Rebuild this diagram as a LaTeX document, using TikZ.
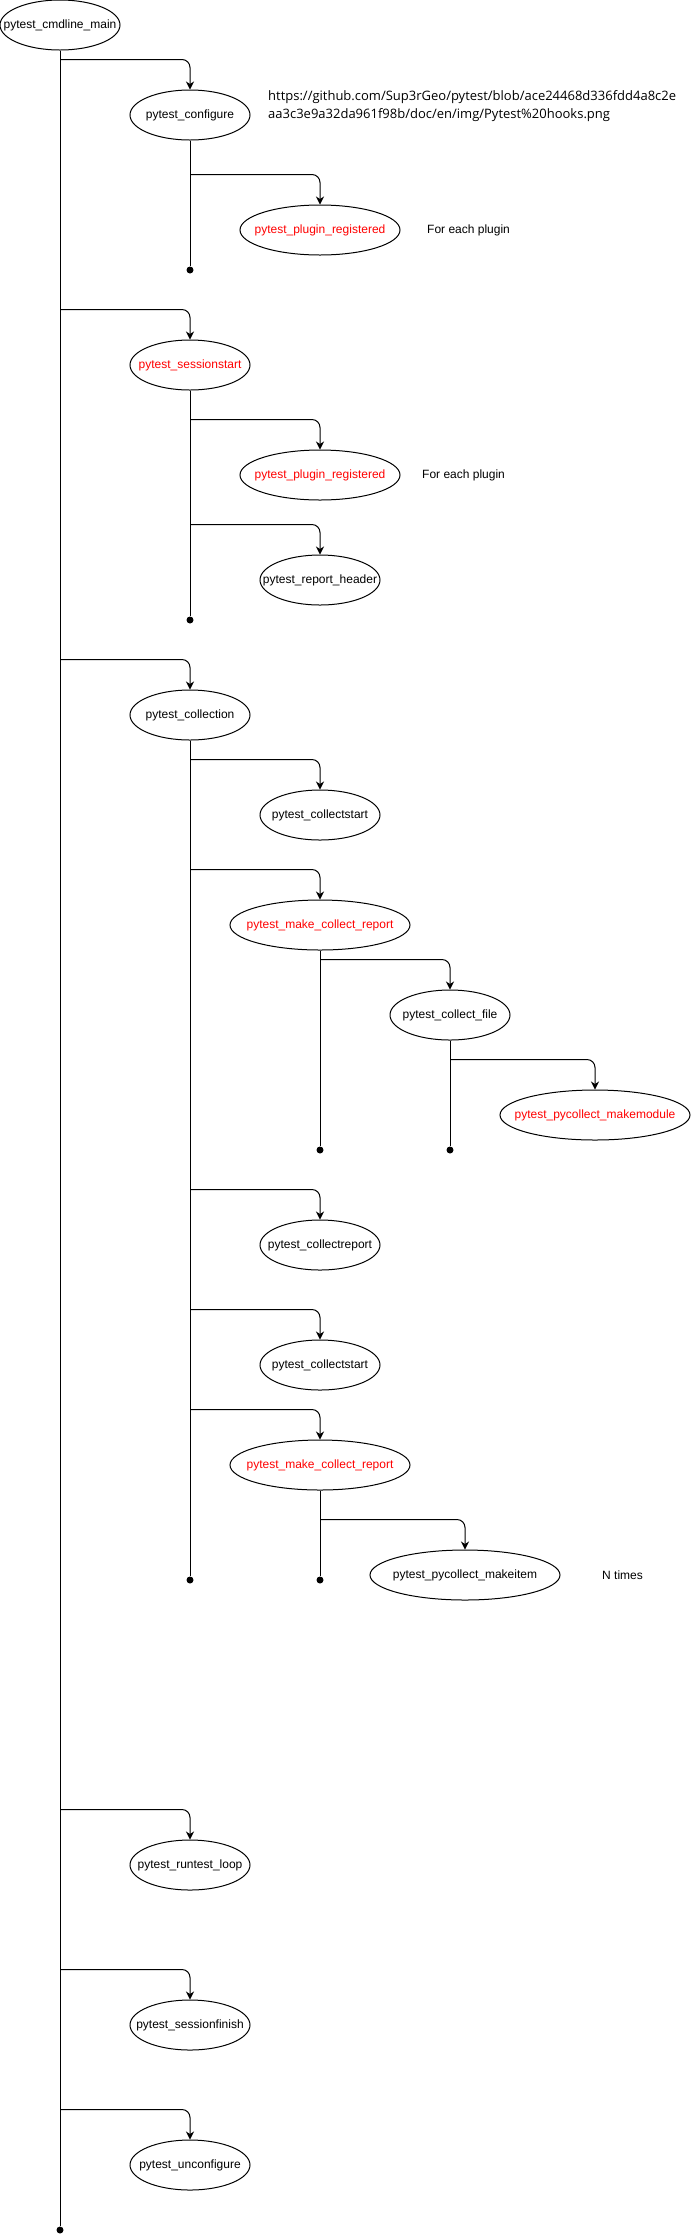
\documentclass[tikz,border=0pt]{standalone}
\usepackage{fontspec}
\setmainfont{Liberation Sans}
\newfontfamily\urlfont{Open Sans}
\usetikzlibrary{arrows.meta, calc, shapes.geometric}
\definecolor{hookRed}{HTML}{FF0000}
\tikzset{
  hookbox/.style={draw, ellipse, line width=1pt, minimum width=120pt, minimum height=50pt, inner sep=0pt,
    font=\fontsize{12}{14}\selectfont, execute at begin node={\hbox to 0pt\bgroup\hss}, execute at end node={\hss\egroup}},
  redhook/.style={hookbox, text=hookRed},
  enddot/.style={circle, fill, inner sep=0pt, minimum size=7pt},
  lifeline/.style={line width=1pt},
  flowarr/.style={-{Stealth[length=8pt, width=8pt, inset=2.5pt]}, line width=1pt, rounded corners=8pt},
  notetext/.style={anchor=west, inner sep=0pt, font=\fontsize{12}{14}\selectfont},
}

\begin{document}
\begin{tikzpicture}[x=1pt, y=-1pt]
  \useasboundingbox (0,0) rectangle (691,2239);
  % hooks
  \node[hookbox] (main) at (60,25) {pytest\_cmdline\_main};
  \node[hookbox] (configure) at (190,115) {pytest\_configure};
  \node[redhook, minimum width=160pt] (plugregA) at (320,230) {pytest\_plugin\_registered};
  \node[redhook] (sessionstart) at (190,365) {pytest\_sessionstart};
  \node[redhook, minimum width=160pt] (plugregB) at (320,475) {pytest\_plugin\_registered};
  \node[hookbox] (header) at (320,580) {pytest\_report\_header};
  \node[hookbox] (collection) at (190,715) {pytest\_collection};
  \node[hookbox] (startA) at (320,815) {pytest\_collectstart};
  \node[redhook, minimum width=180pt] (mcrA) at (320,925) {pytest\_make\_collect\_report};
  \node[hookbox] (collectfile) at (450,1015) {pytest\_collect\_file};
  \node[redhook, minimum width=190pt] (makemodule) at (595,1115) {pytest\_pycollect\_makemodule};
  \node[hookbox] (collreport) at (320,1245) {pytest\_collectreport};
  \node[hookbox] (startB) at (320,1365) {pytest\_collectstart};
  \node[redhook, minimum width=180pt] (mcrB) at (320,1465) {pytest\_make\_collect\_report};
  \node[hookbox, minimum width=190pt] (makeitem) at (465,1575) {pytest\_pycollect\_makeitem};
  \node[hookbox] (runtestloop) at (190,1865) {pytest\_runtest\_loop};
  \node[hookbox] (sessionfinish) at (190,2025) {pytest\_sessionfinish};
  \node[hookbox] (unconfigure) at (190,2165) {pytest\_unconfigure};
  % notes
  \node[anchor=west, inner sep=0pt, align=left, font=\urlfont\fontsize{13}{18}\selectfont] (srcurl) at (268,106)
    {https://github.com/Sup3rGeo/pytest/blob/ace24468d336fdd4a8c2e\\aa3c3e9a32da961f98b/doc/en/img/Pytest\%20hooks.png};
  \node[notetext] (noteA) at (427,230) {For each plugin};
  \node[notetext] (noteB) at (422,475) {For each plugin};
  \node[notetext] (noteN) at (602,1575) {N times};
  % ends of the lifelines
  \node[enddot] (mainEnd) at (60,2230) {};
  \node[enddot] (cfgEnd) at (190,270) {};
  \node[enddot] (sessEnd) at (190,620) {};
  \node[enddot] (collEnd) at (190,1580) {};
  \node[enddot] (mcrAEnd) at (320,1150) {};
  \node[enddot] (fileEnd) at (450,1150) {};
  \node[enddot] (mcrBEnd) at (320,1580) {};
  \foreach \src/\dst in {main/mainEnd, configure/cfgEnd, sessionstart/sessEnd, collection/collEnd,
      mcrA/mcrAEnd, collectfile/fileEnd, mcrB/mcrBEnd}
    \draw[lifeline] (\src) -- (\dst);
  % calls
  \foreach \src/\dst in {main/configure, configure/plugregA, main/sessionstart, sessionstart/plugregB,
      sessionstart/header, main/collection, collection/startA, collection/mcrA, mcrA/collectfile,
      collectfile/makemodule, collection/collreport, collection/startB, collection/mcrB, mcrB/makeitem,
      main/runtestloop, main/sessionfinish, main/unconfigure}
    \draw[flowarr] ($(\dst.north -| \src.south)+(0,-30)$) -| (\dst.north);
\end{tikzpicture}
\end{document}
